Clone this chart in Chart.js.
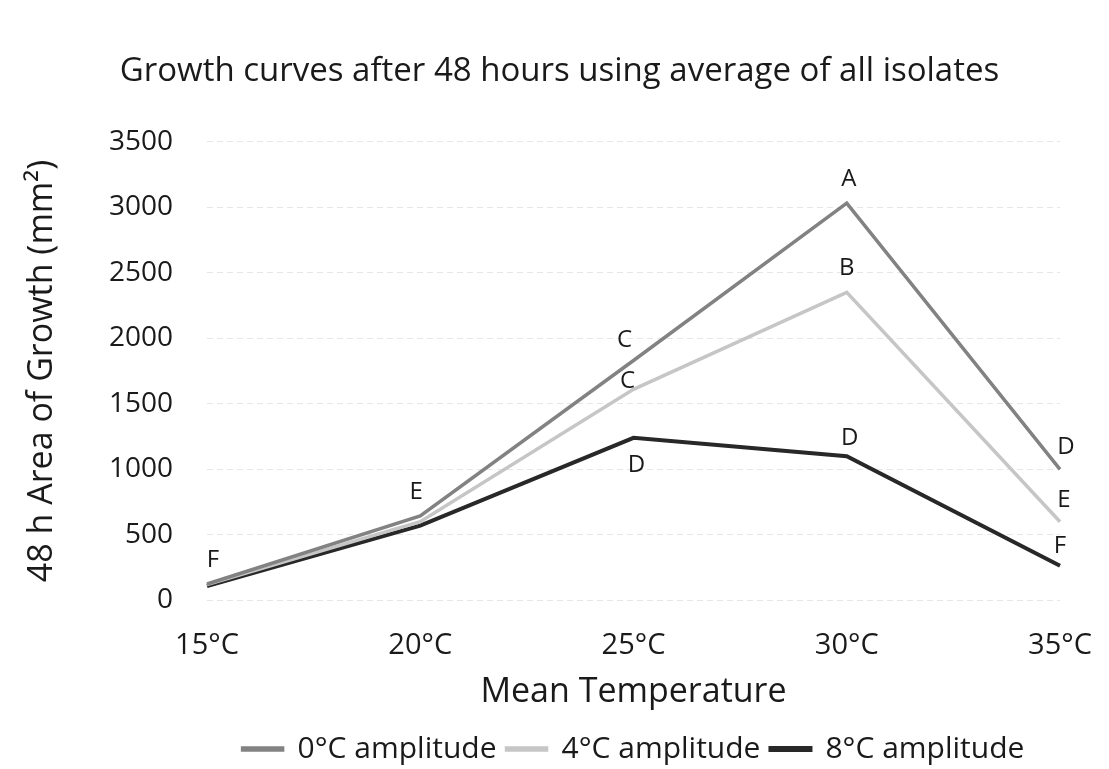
<!DOCTYPE html>
<html>
<head>
<meta charset="utf-8">
<script src="https://cdn.jsdelivr.net/npm/chart.js@4.4.0/dist/chart.umd.min.js"></script>
<style>
html,body{margin:0;padding:0;background:#fff;}
#wrap{width:1109px;height:769px;position:relative;}
</style>
</head>
<body>
<div id="wrap"><canvas id="c" width="1109" height="769"></canvas></div>
<script>
const categories = ['15°C','20°C','25°C','30°C','35°C'];
const amp0 = [125, 645, 1830, 3030, 1000];
const amp4 = [120, 600, 1610, 2350, 600];
const amp8 = [110, 570, 1240, 1100, 265];
const letters0 = ['F','E','C','A','D'];
const letters4 = ['','','C','B','E'];
const letters8 = ['','','D','D','F'];
const yTicks = [0,500,1000,1500,2000,2500,3000,3500];

const FONT = '"Open Sans", sans-serif';

const letterPlugin = {
  id: 'letters',
  afterDatasetsDraw(chart) {
    const ctx = chart.ctx;
    const sets = [
      {letters: letters0, ds: 0, dy: [-24,-24,-20,-24,-22], dx:[6,-4,-9,2,6]},
      {letters: letters4, ds: 1, dy: [0,0,-8,-24,-22], dx:[0,0,-6,0,4]},
      {letters: letters8, ds: 2, dy: [0,0,27,-18,-20], dx:[0,0,3,3,0]}
    ];
    ctx.save();
    ctx.font = '24px ' + FONT;
    ctx.fillStyle = '#1a1a1a';
    ctx.textAlign = 'center';
    ctx.textBaseline = 'middle';
    sets.forEach(s => {
      const meta = chart.getDatasetMeta(s.ds);
      meta.data.forEach((pt, i) => {
        const t = s.letters[i];
        if (!t) return;
        ctx.fillText(t, pt.x + s.dx[i], pt.y + s.dy[i]);
      });
    });
    ctx.restore();
  }
};

new Chart(document.getElementById('c'), {
  type: 'line',
  data: {
    labels: categories,
    datasets: [
      {label: '0°C amplitude', data: amp0, borderColor: '#828282', backgroundColor: '#828282', borderWidth: 3.5, pointRadius: 0, tension: 0},
      {label: '4°C amplitude', data: amp4, borderColor: '#c6c6c6', backgroundColor: '#c6c6c6', borderWidth: 3.5, pointRadius: 0, tension: 0},
      {label: '8°C amplitude', data: amp8, borderColor: '#282828', backgroundColor: '#282828', borderWidth: 4, pointRadius: 0, tension: 0}
    ]
  },
  options: {
    responsive: false,
    animation: false,
    layout: {padding: {left: 10, right: 0, top: 10, bottom: -5}},
    plugins: {
      title: {
        display: true,
        text: 'Growth curves after 48 hours using average of all isolates',
        font: {family: FONT, size: 33, weight: 'normal'},
        color: '#1a1a1a',
        padding: {top: 42, bottom: 50}
      },
      legend: {
        position: 'bottom',
        fullSize: false,
        labels: {
          font: {family: FONT, size: 30},
          color: '#1a1a1a',
          boxWidth: 40,
          boxHeight: 2,
          padding: 10
        }
      },
      tooltip: {enabled: false}
    },
    scales: {
      x: {
        offset: false,
        afterFit(axis) { axis.paddingRight = 49; },
        grid: {display: false, drawTicks: false},
        border: {display: false},
        ticks: {font: {family: FONT, size: 29}, color: '#1a1a1a', padding: 28, maxRotation: 0},
        title: {display: true, text: 'Mean Temperature', font: {family: FONT, size: 34}, color: '#1a1a1a', padding: {top: -19, bottom: 11}}
      },
      y: {
        min: 0, max: 3500,
        afterBuildTicks(axis) { axis.ticks = yTicks.map(v => ({value: v})); },
        afterFit(axis) { axis.width = 197; },
        grid: {color: '#e6e6e6', lineWidth: 1, drawTicks: false},
        border: {display: false, dash: [6,4]},
        ticks: {font: {family: FONT, size: 28}, color: '#1a1a1a', padding: 34, callback: v => String(v)},
        title: {display: true, text: '48 h Area of Growth (mm²)', font: {family: FONT, size: 34}, color: '#1a1a1a', padding: {top: 12, bottom: 0}}
      }
    }
  },
  plugins: [letterPlugin]
});
</script>
</body>
</html>
